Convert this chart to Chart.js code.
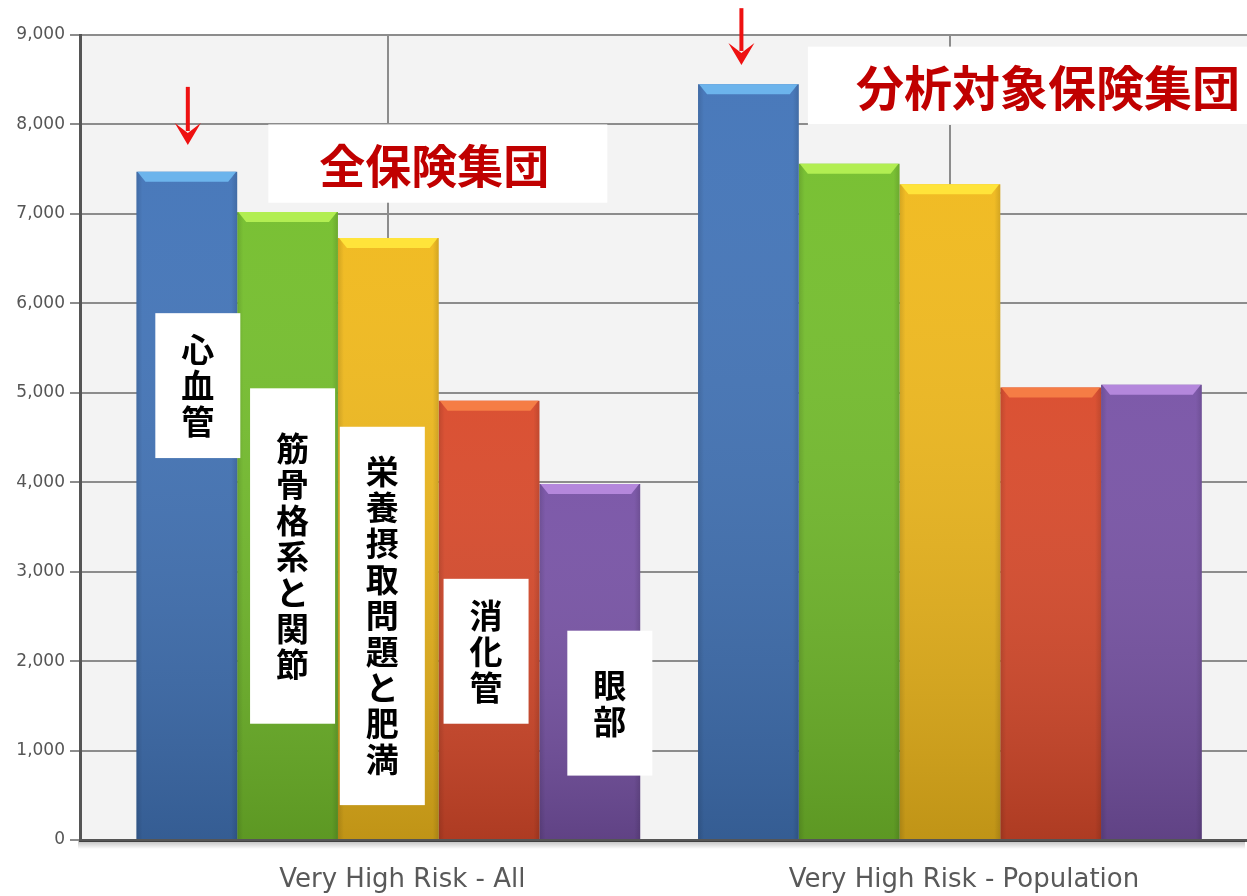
<!DOCTYPE html>
<html lang="ja">
<head>
<meta charset="utf-8">
<title>Very High Risk</title>
<script src="https://cdn.jsdelivr.net/npm/chart.js@4.4.1/dist/chart.umd.min.js"></script>
<style>
  html, body { margin: 0; padding: 0; background: #fff; }
  #wrap { position: relative; width: 1247px; height: 896px; }
</style>
</head>
<body>
<div id="wrap"><canvas id="riskChart"></canvas></div>
<script>
// data
const categories = ['Very High Risk - All', 'Very High Risk - Population'];
const seriesNames = ['心血管', '筋骨格系と関節', '栄養摂取問題と肥満', '消化管', '眼部'];
const cardiovascular = [7470, 8450];
const musculoskeletal = [7020, 7560];
const nutrition = [6730, 7330];
const digestive = [4910, 5060];
const eye = [3980, 5090];
const yTicks = [0, 1000, 2000, 3000, 4000, 5000, 6000, 7000, 8000, 9000];
const groupTitles = ['全保険集団', '分析対象保険集団'];

const seriesValues = [cardiovascular, musculoskeletal, nutrition, digestive, eye];
const barColors = ['#4274b8', '#74be2c', '#f0b91c', '#d94a2b', '#7853a6'];
const bevelColors = ['#6cb4ec', '#b2ee52', '#ffe43a', '#f57d45', '#b487dc'];

// white label boxes on the first group (value units for top / bottom)
const boxLayout = [
    { dx: 11, top: 5890, bottom: 4270 },
    { dx: 5, top: 5050, bottom: 1300 },
    { dx: -6, top: 4620, bottom: 390 },
    { dx: -3, top: 2920, bottom: 1300 },
    { dx: 20, top: 2340, bottom: 720 }
];
// red titles over each group
const titleLayout = [
    { left: -120, right: 219, top: 8000, bottom: 7125, textDx: 46, size: 46 },
    { left: -142, right: 310, top: 8870, bottom: 7995, textDx: 98, size: 48 }
];
// arrows above the blue bars
const arrowLayout = [
    { dx: 1, top: 8420, tip: 7770 },
    { dx: -7, top: 9300, tip: 8665 }
];

const chartBackground = {
    id: 'chartBackground',
    beforeDraw(chart) {
        const { ctx, chartArea: a } = chart;
        ctx.save();
        ctx.fillStyle = '#ffffff';
        ctx.fillRect(0, 0, chart.width, chart.height);
        ctx.fillStyle = '#f3f3f3';
        ctx.fillRect(a.left, a.top, a.right - a.left, a.bottom - a.top);
        ctx.restore();
    },
    afterDraw(chart) {
        // soft shadow under the x axis line
        const { ctx, chartArea: a } = chart;
        const g = ctx.createLinearGradient(0, a.bottom + 1, 0, a.bottom + 9);
        g.addColorStop(0, 'rgba(0,0,0,0.25)');
        g.addColorStop(1, 'rgba(0,0,0,0)');
        ctx.save();
        ctx.fillStyle = g;
        ctx.fillRect(a.left - 2, a.bottom + 1, a.right - a.left, 8);
        ctx.restore();
    }
};

// bevelled look of the bars
const barShading = {
    id: 'barShading',
    afterDatasetsDraw(chart) {
        const ctx = chart.ctx;
        ctx.save();
        chart.data.datasets.forEach((ds, i) => {
            chart.getDatasetMeta(i).data.forEach(bar => {
                const l = bar.x - bar.width / 2, r = bar.x + bar.width / 2;
                const t = bar.y, b = bar.base;
                let g = ctx.createLinearGradient(0, t, 0, b);
                g.addColorStop(0, 'rgba(255,255,255,0.04)');
                g.addColorStop(1, 'rgba(0,0,0,0.2)');
                ctx.fillStyle = g;
                ctx.fillRect(l, t, r - l, b - t);
                g = ctx.createLinearGradient(l, 0, r, 0);
                g.addColorStop(0, 'rgba(0,0,0,0.12)');
                g.addColorStop(0.06, 'rgba(0,0,0,0)');
                g.addColorStop(0.94, 'rgba(0,0,0,0)');
                g.addColorStop(1, 'rgba(0,0,0,0.12)');
                ctx.fillStyle = g;
                ctx.fillRect(l, t, r - l, b - t);
                ctx.fillStyle = bevelColors[i];
                ctx.beginPath();
                ctx.moveTo(l + 1, t);
                ctx.lineTo(r - 1, t);
                ctx.lineTo(r - 9, t + 10);
                ctx.lineTo(l + 9, t + 10);
                ctx.closePath();
                ctx.fill();
            });
        });
        ctx.restore();
    }
};

const annotations = {
    id: 'annotations',
    afterDatasetsDraw(chart) {
        const ctx = chart.ctx;
        const y = chart.scales.y, x = chart.scales.x;
        ctx.save();
        ctx.textAlign = 'center';
        ctx.textBaseline = 'middle';

        // vertical series labels
        ctx.font = 'bold 33px "Noto Sans CJK JP"';
        seriesNames.forEach((name, i) => {
            const bar = chart.getDatasetMeta(i).data[0];
            const lay = boxLayout[i];
            const cx = bar.x + lay.dx;
            const top = y.getPixelForValue(lay.top), bottom = y.getPixelForValue(lay.bottom);
            ctx.fillStyle = '#ffffff';
            ctx.fillRect(cx - 42.5, top, 85, bottom - top);
            ctx.fillStyle = '#000000';
            const chars = Array.from(name);
            const pitch = 36;
            const mid = (top + bottom) / 2;
            chars.forEach((ch, k) => {
                ctx.fillText(ch, cx, mid + (k - (chars.length - 1) / 2) * pitch);
            });
        });

        // group titles
        groupTitles.forEach((title, j) => {
            const lay = titleLayout[j];
            const gx = x.getPixelForValue(j);
            const top = y.getPixelForValue(lay.top), bottom = y.getPixelForValue(lay.bottom);
            ctx.fillStyle = '#ffffff';
            ctx.fillRect(gx + lay.left, top, lay.right - lay.left, bottom - top);
            ctx.fillStyle = '#c00000';
            ctx.font = 'bold ' + lay.size + 'px "Noto Sans CJK JP"';
            ctx.fillText(title, gx + lay.textDx, (top + bottom) / 2 + 2);
        });

        // red arrows
        ctx.strokeStyle = '#ee1111';
        ctx.fillStyle = '#ee1111';
        ctx.lineWidth = 4;
        arrowLayout.forEach((lay, j) => {
            const bar = chart.getDatasetMeta(0).data[j];
            const ax = bar.x + lay.dx;
            const top = y.getPixelForValue(lay.top), tip = y.getPixelForValue(lay.tip);
            ctx.beginPath();
            ctx.moveTo(ax, top);
            ctx.lineTo(ax, tip - 14);
            ctx.stroke();
            ctx.beginPath();
            ctx.moveTo(ax - 13, tip - 22);
            ctx.lineTo(ax, tip - 12);
            ctx.lineTo(ax + 13, tip - 22);
            ctx.lineTo(ax, tip);
            ctx.closePath();
            ctx.fill();
        });
        ctx.restore();
    }
};

const datasets = seriesNames.map((name, i) => ({
    label: name,
    data: seriesValues[i].map((v, j) => ({ x: j, y: v })),
    backgroundColor: barColors[i],
    borderWidth: 0,
    categoryPercentage: 0.897,
    barPercentage: 1.0
}));

new Chart(document.getElementById('riskChart'), {
    type: 'bar',
    data: { datasets: datasets },
    options: {
        responsive: true,
        maintainAspectRatio: false,
        animation: false,
        layout: { padding: { top: 35, right: 0, bottom: 0, left: 0 } },
        plugins: {
            legend: { display: false },
            tooltip: { enabled: false }
        },
        scales: {
            x: {
                type: 'linear',
                offset: false,
                min: -0.549,
                max: 1.529,
                afterBuildTicks(scale) {
                    scale.ticks = categories.map((c, j) => ({ value: j }));
                },
                afterFit(scale) { scale.height = 56; },
                grid: { color: '#8c8c8c', lineWidth: 2, drawTicks: false, offset: false },
                border: { display: true, color: '#555555', width: 3 },
                ticks: {
                    padding: 25,
                    labelOffset: 14,
                    color: '#595959',
                    font: { family: '"DejaVu Sans"', size: 26 },
                    callback: value => categories[value]
                }
            },
            y: {
                min: 0,
                max: 9000,
                afterBuildTicks(scale) {
                    scale.ticks = yTicks.map(v => ({ value: v }));
                },
                afterFit(scale) { scale.width = 80; },
                grid: { color: '#8c8c8c', lineWidth: 2, tickLength: 10 },
                border: { display: true, color: '#555555', width: 3 },
                ticks: {
                    padding: 5,
                    color: '#555555',
                    font: { family: '"DejaVu Sans"', size: 17 },
                    callback: value => value.toLocaleString('en-US')
                }
            }
        }
    },
    plugins: [chartBackground, barShading, annotations]
});
</script>
</body>
</html>
